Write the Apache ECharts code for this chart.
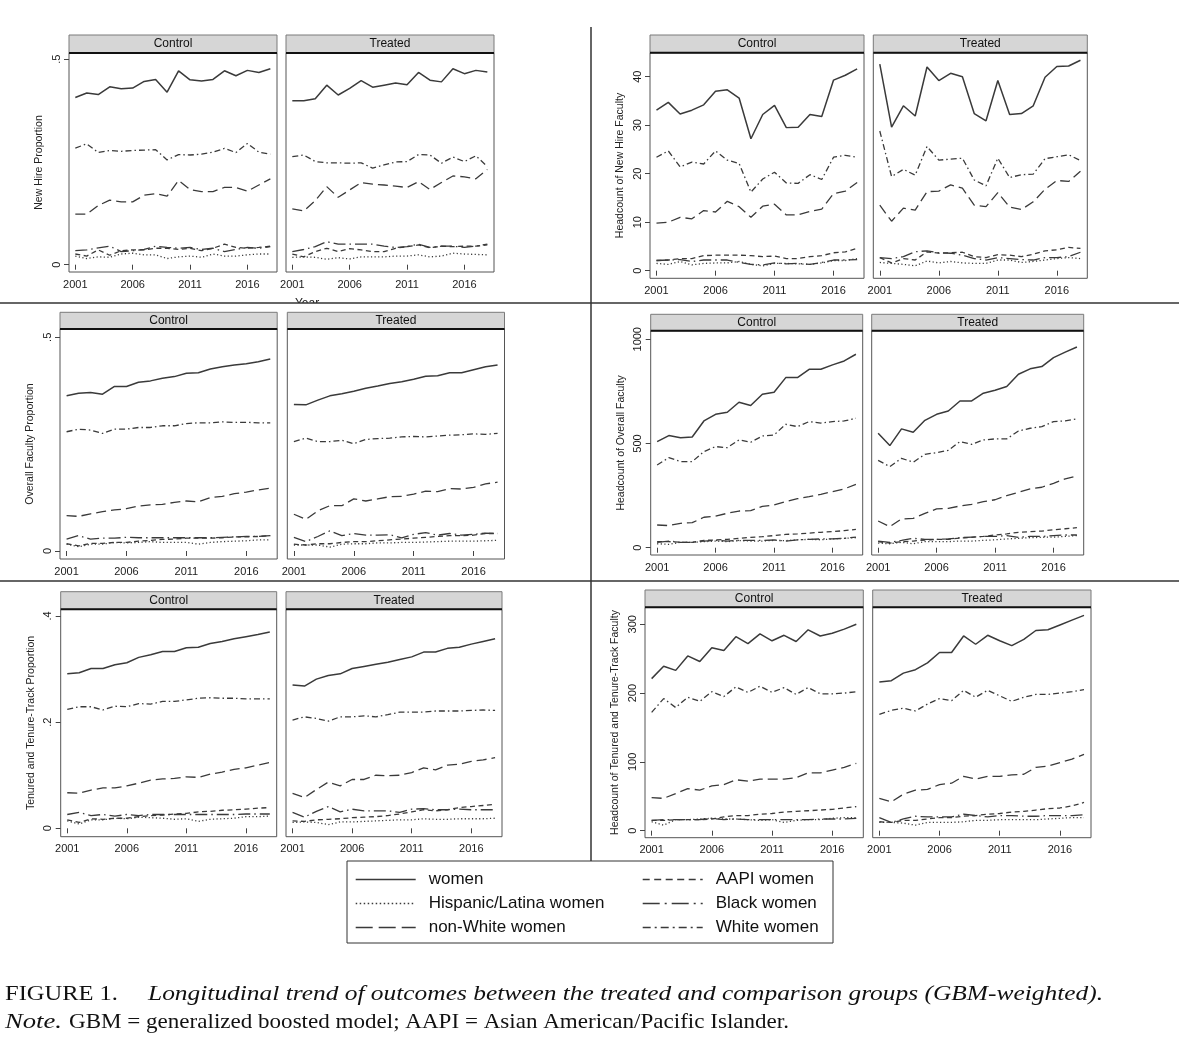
<!DOCTYPE html>
<html><head><meta charset="utf-8">
<script src="https://cdn.jsdelivr.net/npm/echarts@6/dist/echarts.min.js"></script>
<style>html,body{margin:0;padding:0;background:#fff}#c{width:1179px;height:1050px}</style>
</head><body><div id="c"></div>
<script>
// ---------- DATA ----------
const years = [2001,2002,2003,2004,2005,2006,2007,2008,2009,2010,2011,2012,2013,2014,2015,2016,2017,2018];
const xTickValues = [2001,2006,2011,2016];
const seriesNames = ['women','Hispanic/Latina women','non-White women','AAPI women','Black women','White women'];
const groupNames = ['Control','Treated'];
const panelTitles = ['New Hire Proportion','Headcount of New Hire Faculty','Overall Faculty Proportion','Headcount of Overall Faculty','Tenured and Tenure-Track Proportion','Headcount of Tenured and Tenure-Track Faculty'];
const yTickValues = [[0,0.5],[0,10,20,30,40],[0,0.5],[0,500,1000],[0,0.2,0.4],[0,100,200,300]];

// New hire proportion
const nhProp_ctrl_women    = [0.407,0.418,0.414,0.433,0.428,0.430,0.446,0.451,0.420,0.472,0.450,0.447,0.451,0.472,0.460,0.473,0.468,0.477];
const nhProp_ctrl_hisp     = [0.021,0.015,0.019,0.018,0.026,0.028,0.024,0.024,0.015,0.019,0.021,0.018,0.026,0.021,0.021,0.024,0.026,0.026];
const nhProp_ctrl_nonWhite = [0.123,0.123,0.144,0.157,0.153,0.153,0.169,0.173,0.167,0.205,0.183,0.178,0.178,0.188,0.188,0.179,0.194,0.209];
const nhProp_ctrl_aapi     = [0.026,0.021,0.036,0.023,0.034,0.036,0.036,0.040,0.040,0.037,0.040,0.034,0.040,0.050,0.042,0.040,0.042,0.045];
const nhProp_ctrl_black    = [0.034,0.036,0.041,0.045,0.032,0.034,0.037,0.045,0.042,0.040,0.042,0.037,0.040,0.032,0.037,0.042,0.040,0.044];
const nhProp_ctrl_white    = [0.284,0.294,0.273,0.278,0.276,0.278,0.279,0.280,0.255,0.268,0.267,0.269,0.274,0.283,0.273,0.295,0.274,0.269];
const nhProp_trt_women     = [0.399,0.399,0.404,0.437,0.413,0.429,0.448,0.432,0.437,0.442,0.438,0.468,0.449,0.445,0.477,0.465,0.473,0.469];
const nhProp_trt_hisp      = [0.018,0.019,0.018,0.013,0.017,0.014,0.019,0.019,0.019,0.021,0.021,0.024,0.019,0.021,0.028,0.026,0.025,0.024];
const nhProp_trt_nonWhite  = [0.136,0.131,0.156,0.190,0.164,0.182,0.200,0.196,0.194,0.191,0.188,0.202,0.183,0.200,0.216,0.214,0.209,0.232];
const nhProp_trt_aapi      = [0.026,0.019,0.032,0.040,0.032,0.039,0.036,0.032,0.032,0.040,0.044,0.048,0.041,0.045,0.044,0.045,0.045,0.048];
const nhProp_trt_black     = [0.032,0.037,0.044,0.056,0.050,0.050,0.050,0.050,0.045,0.042,0.044,0.050,0.042,0.045,0.045,0.042,0.045,0.050];
const nhProp_trt_white     = [0.263,0.267,0.251,0.248,0.248,0.247,0.248,0.235,0.243,0.250,0.251,0.268,0.267,0.247,0.262,0.251,0.265,0.239];

// Headcount of new hire faculty
const nhCount_ctrl_women    = [33.1,34.7,32.3,33.1,34.2,37.0,37.3,35.6,27.2,32.2,34.1,29.5,29.6,32.2,31.8,39.3,40.3,41.6];
const nhCount_ctrl_hisp     = [1.5,1.3,1.9,1.2,1.5,1.6,1.6,1.9,1.3,1.0,1.5,1.5,1.4,1.3,1.6,2.1,2.1,2.5];
const nhCount_ctrl_nonWhite = [9.8,10.0,11.0,10.7,12.4,12.1,14.3,13.2,11.0,13.3,13.7,11.5,11.5,12.2,12.7,15.9,16.4,18.2];
const nhCount_ctrl_aapi     = [2.1,2.2,2.5,2.5,3.1,3.2,3.2,3.2,3.1,2.9,3.0,2.5,2.5,2.9,3.1,3.7,3.9,4.6];
const nhCount_ctrl_black    = [2.1,2.2,2.3,1.9,2.2,2.2,2.2,1.7,1.3,1.2,1.6,1.4,1.5,1.3,1.7,2.2,2.2,2.3];
const nhCount_ctrl_white    = [23.4,24.7,21.4,22.4,22.0,24.7,22.8,22.1,16.2,18.9,20.3,18.1,18.0,19.8,18.8,23.4,23.8,23.4];
const nhCount_trt_women     = [42.6,29.6,34.0,31.9,42.0,39.2,40.7,40.0,32.4,30.9,39.2,32.2,32.4,34.0,39.9,42.1,42.2,43.4];
const nhCount_trt_hisp      = [1.7,1.5,1.3,1.0,2.0,1.6,1.9,1.6,1.5,1.5,2.2,2.2,1.7,1.9,2.2,2.5,2.7,2.5];
const nhCount_trt_nonWhite  = [13.5,10.2,12.9,12.5,16.3,16.4,17.7,17.0,13.5,13.2,16.1,13.1,12.6,14.2,16.8,18.6,18.4,20.5];
const nhCount_trt_aapi      = [2.7,1.6,2.5,2.2,3.9,3.6,3.7,3.8,2.9,2.7,3.3,3.2,2.9,3.4,4.1,4.3,4.8,4.6];
const nhCount_trt_black     = [2.7,2.5,2.9,3.9,4.1,3.7,3.6,3.2,2.5,2.2,2.7,2.5,2.3,2.2,2.7,2.7,2.9,3.8];
const nhCount_trt_white     = [28.8,19.4,20.9,19.7,25.6,22.8,23.0,23.2,18.7,17.5,23.2,19.2,19.8,19.9,23.1,23.5,23.9,22.7];

// Overall faculty proportion
const allProp_ctrl_women    = [0.363,0.369,0.371,0.367,0.385,0.385,0.395,0.398,0.404,0.408,0.416,0.417,0.426,0.431,0.435,0.438,0.443,0.449];
const allProp_ctrl_hisp     = [0.016,0.010,0.016,0.016,0.020,0.019,0.020,0.022,0.020,0.020,0.020,0.016,0.020,0.022,0.023,0.024,0.026,0.026];
const allProp_ctrl_nonWhite = [0.083,0.081,0.087,0.092,0.096,0.099,0.105,0.108,0.109,0.114,0.117,0.115,0.125,0.128,0.134,0.138,0.143,0.147];
const allProp_ctrl_aapi     = [0.017,0.012,0.018,0.018,0.020,0.020,0.023,0.025,0.027,0.028,0.030,0.030,0.030,0.031,0.033,0.033,0.034,0.036];
const allProp_ctrl_black    = [0.028,0.036,0.028,0.030,0.030,0.032,0.031,0.031,0.031,0.031,0.031,0.031,0.031,0.032,0.033,0.034,0.034,0.036];
const allProp_ctrl_white    = [0.279,0.285,0.283,0.275,0.285,0.285,0.289,0.289,0.293,0.293,0.298,0.300,0.300,0.302,0.301,0.301,0.300,0.300];
const allProp_trt_women     = [0.343,0.342,0.353,0.363,0.368,0.374,0.381,0.386,0.392,0.396,0.402,0.409,0.410,0.417,0.417,0.424,0.431,0.435];
const allProp_trt_hisp      = [0.014,0.014,0.014,0.009,0.016,0.017,0.017,0.019,0.019,0.020,0.020,0.021,0.022,0.023,0.023,0.023,0.024,0.025];
const allProp_trt_nonWhite  = [0.086,0.074,0.094,0.106,0.106,0.122,0.117,0.122,0.127,0.128,0.133,0.140,0.139,0.146,0.145,0.149,0.157,0.161];
const allProp_trt_aapi      = [0.016,0.014,0.017,0.017,0.020,0.022,0.022,0.024,0.026,0.028,0.030,0.032,0.034,0.036,0.036,0.037,0.041,0.041];
const allProp_trt_black     = [0.032,0.022,0.034,0.047,0.036,0.041,0.037,0.037,0.038,0.031,0.039,0.043,0.037,0.041,0.037,0.039,0.042,0.041];
const allProp_trt_white     = [0.256,0.264,0.256,0.256,0.259,0.251,0.261,0.263,0.264,0.267,0.268,0.267,0.269,0.271,0.272,0.274,0.273,0.275];

// Headcount of overall faculty
const allCount_ctrl_women    = [509,538,528,531,608,640,650,698,682,736,746,816,816,856,856,877,896,928];
const allCount_ctrl_hisp     = [19,16,26,26,29,32,29,34,32,32,35,34,38,40,38,42,45,48];
const allCount_ctrl_nonWhite = [109,106,117,120,146,152,165,176,178,198,205,221,235,245,256,269,282,304];
const allCount_ctrl_aapi     = [29,29,26,26,35,37,40,45,50,53,58,64,66,70,74,77,82,88];
const allCount_ctrl_black    = [26,32,26,26,32,35,32,35,35,35,37,32,38,40,42,42,45,51];
const allCount_ctrl_white    = [397,432,413,413,461,485,480,517,506,536,541,592,581,605,598,605,608,621];
const allCount_trt_women     = [549,490,570,554,611,640,656,704,704,741,755,773,832,858,869,912,938,963];
const allCount_trt_hisp      = [22,19,26,19,29,29,29,32,32,35,38,42,45,48,50,51,54,58];
const allCount_trt_nonWhite  = [128,101,138,141,165,186,189,200,208,221,230,250,266,282,290,309,330,344];
const allCount_trt_aapi      = [29,22,29,32,37,40,40,46,50,54,61,66,74,77,80,86,91,96];
const allCount_trt_black     = [32,26,35,45,40,40,42,48,51,54,54,58,50,54,54,58,61,61];
const allCount_trt_white     = [419,389,429,410,448,456,467,509,496,517,522,522,560,573,581,605,608,618];

// Tenured and tenure-track proportion
const ttProp_ctrl_women    = [0.291,0.293,0.301,0.301,0.308,0.312,0.322,0.327,0.333,0.333,0.340,0.341,0.348,0.352,0.357,0.361,0.365,0.370];
const ttProp_ctrl_hisp     = [0.014,0.008,0.016,0.016,0.019,0.018,0.021,0.020,0.019,0.017,0.018,0.013,0.017,0.018,0.019,0.022,0.022,0.023];
const ttProp_ctrl_nonWhite = [0.067,0.066,0.072,0.076,0.076,0.080,0.085,0.091,0.093,0.094,0.097,0.096,0.102,0.106,0.111,0.114,0.119,0.124];
const ttProp_ctrl_aapi     = [0.016,0.011,0.018,0.017,0.019,0.019,0.022,0.024,0.025,0.027,0.028,0.031,0.032,0.034,0.035,0.036,0.038,0.039];
const ttProp_ctrl_black    = [0.026,0.030,0.024,0.026,0.023,0.026,0.024,0.026,0.026,0.026,0.026,0.026,0.026,0.026,0.026,0.027,0.027,0.027];
const ttProp_ctrl_white    = [0.224,0.229,0.229,0.223,0.230,0.229,0.235,0.234,0.239,0.239,0.242,0.245,0.246,0.245,0.245,0.244,0.244,0.244];
const ttProp_trt_women     = [0.270,0.268,0.281,0.288,0.291,0.301,0.305,0.309,0.313,0.318,0.323,0.332,0.332,0.339,0.341,0.347,0.352,0.357];
const ttProp_trt_hisp      = [0.011,0.012,0.011,0.007,0.012,0.012,0.013,0.014,0.015,0.016,0.016,0.018,0.017,0.017,0.018,0.018,0.018,0.019];
const ttProp_trt_nonWhite  = [0.066,0.058,0.073,0.087,0.080,0.092,0.092,0.100,0.099,0.100,0.105,0.114,0.110,0.119,0.121,0.126,0.129,0.133];
const ttProp_trt_aapi      = [0.014,0.013,0.016,0.017,0.018,0.020,0.021,0.022,0.024,0.027,0.031,0.035,0.033,0.035,0.039,0.041,0.043,0.045];
const ttProp_trt_black     = [0.030,0.021,0.032,0.041,0.031,0.036,0.033,0.033,0.033,0.030,0.036,0.037,0.035,0.035,0.036,0.035,0.035,0.035];
const ttProp_trt_white     = [0.204,0.210,0.207,0.202,0.210,0.210,0.212,0.210,0.214,0.219,0.219,0.219,0.221,0.221,0.221,0.222,0.223,0.222];

// Headcount of tenured and tenure-track faculty
const ttCount_ctrl_women    = [221,239,233,254,246,266,262,282,272,286,276,284,275,292,283,287,293,300];
const ttCount_ctrl_hisp     = [13,8,16,16,17,18,17,17,16,15,16,12,15,16,16,18,19,19];
const ttCount_ctrl_nonWhite = [48,47,54,61,59,65,67,74,72,75,75,75,77,84,84,88,92,98];
const ttCount_ctrl_aapi     = [15,15,16,16,16,17,20,22,22,24,25,27,28,29,30,31,33,35];
const ttCount_ctrl_black    = [15,16,16,16,16,18,16,17,16,16,16,16,16,16,17,17,17,18];
const ttCount_ctrl_white    = [172,192,179,194,188,202,195,209,201,210,201,208,198,208,199,199,200,202];
const ttCount_trt_women     = [216,218,229,234,244,259,259,283,271,284,276,269,278,291,292,299,306,313];
const ttCount_trt_hisp      = [12,12,11,8,12,12,12,13,15,15,16,16,16,16,17,18,19,19];
const ttCount_trt_nonWhite  = [47,42,53,59,60,67,69,79,75,79,79,81,82,92,94,99,104,111];
const ttCount_trt_aapi      = [13,12,15,15,17,19,19,21,22,24,25,27,28,30,32,33,36,41];
const ttCount_trt_black     = [19,12,17,21,20,20,20,24,22,20,22,22,21,21,22,22,22,23];
const ttCount_trt_white     = [169,175,178,174,184,192,189,204,194,204,196,188,194,198,198,200,202,205];

// ---------- ASSEMBLY ----------
const panelData = [
  [[nhProp_ctrl_women,nhProp_ctrl_hisp,nhProp_ctrl_nonWhite,nhProp_ctrl_aapi,nhProp_ctrl_black,nhProp_ctrl_white],
   [nhProp_trt_women,nhProp_trt_hisp,nhProp_trt_nonWhite,nhProp_trt_aapi,nhProp_trt_black,nhProp_trt_white]],
  [[nhCount_ctrl_women,nhCount_ctrl_hisp,nhCount_ctrl_nonWhite,nhCount_ctrl_aapi,nhCount_ctrl_black,nhCount_ctrl_white],
   [nhCount_trt_women,nhCount_trt_hisp,nhCount_trt_nonWhite,nhCount_trt_aapi,nhCount_trt_black,nhCount_trt_white]],
  [[allProp_ctrl_women,allProp_ctrl_hisp,allProp_ctrl_nonWhite,allProp_ctrl_aapi,allProp_ctrl_black,allProp_ctrl_white],
   [allProp_trt_women,allProp_trt_hisp,allProp_trt_nonWhite,allProp_trt_aapi,allProp_trt_black,allProp_trt_white]],
  [[allCount_ctrl_women,allCount_ctrl_hisp,allCount_ctrl_nonWhite,allCount_ctrl_aapi,allCount_ctrl_black,allCount_ctrl_white],
   [allCount_trt_women,allCount_trt_hisp,allCount_trt_nonWhite,allCount_trt_aapi,allCount_trt_black,allCount_trt_white]],
  [[ttProp_ctrl_women,ttProp_ctrl_hisp,ttProp_ctrl_nonWhite,ttProp_ctrl_aapi,ttProp_ctrl_black,ttProp_ctrl_white],
   [ttProp_trt_women,ttProp_trt_hisp,ttProp_trt_nonWhite,ttProp_trt_aapi,ttProp_trt_black,ttProp_trt_white]],
  [[ttCount_ctrl_women,ttCount_ctrl_hisp,ttCount_ctrl_nonWhite,ttCount_ctrl_aapi,ttCount_ctrl_black,ttCount_ctrl_white],
   [ttCount_trt_women,ttCount_trt_hisp,ttCount_trt_nonWhite,ttCount_trt_aapi,ttCount_trt_black,ttCount_trt_white]]
];

// layout (pixels) and axis ranges
const X_MIN = 2000.45, X_MAX = 2018.58;
const layout = [
  {cx:69,    tx:286,   w:208,   top:53,    bottom:272,   strip:35,    yMin:-0.0178, yMax:0.5153},
  {cx:650,   tx:873.3, w:214,   top:52.7,  bottom:278.3, strip:35,    yMin:-1.57,   yMax:44.95},
  {cx:60,    tx:287.3, w:217.2, top:329,   bottom:559,   strip:312.3, yMin:-0.0187, yMax:0.5194},
  {cx:650.7, tx:871.7, w:212,   top:330.7, bottom:555,   strip:314.3, yMin:-35,     yMax:1041},
  {cx:60.7,  tx:286,   w:216,   top:609.3, bottom:836.7, strip:591.7, yMin:-0.0158, yMax:0.4126},
  {cx:645,   tx:872.7, w:218.3, top:607.3, bottom:837.7, strip:590,   yMin:-10.2,   yMax:324.7}
];
const lineColor = '#3a3a3a';
const dashTypes = ['solid', [1.2,2.4], [10,5], [5,3.5], [12,4,1.5,4], [6,3,1.5,3]];
const legendDashTypes = ['solid', [1.5,2.5], [17,6], [7,4.5], [17,5,2,5], [8,4,2,4]];
const SANS = '"Liberation Sans", Arial, Helvetica, sans-serif';
const SERIF = '"Liberation Serif", "Times New Roman", serif';

const grids = [], xAxes = [], yAxes = [], series = [], graphics = [];
const fmtY = v => v === 0 ? '0' : String(+v.toFixed(3)).replace(/^0\./, '.');

layout.forEach((L, p) => {
  [L.cx, L.tx].forEach((left, g) => {
    const idx = p * 2 + g;
    grids.push({left: left, top: L.top, width: L.w, height: L.bottom - L.top,
      show: true, borderColor: '#555', borderWidth: 1, backgroundColor: '#fff'});
    xAxes.push({type: 'value', gridIndex: idx, min: X_MIN, max: X_MAX,
      axisLine: {show: false}, splitLine: {show: false},
      axisTick: {show: true, length: 5, customValues: xTickValues, lineStyle: {color: '#444'}},
      axisLabel: {show: true, customValues: xTickValues, margin: 7, fontSize: 11, fontFamily: SANS, color: '#1a1a1a',
        formatter: v => String(Math.round(v))}});
    yAxes.push({type: 'value', gridIndex: idx, min: L.yMin, max: L.yMax,
      axisLine: {show: false}, splitLine: {show: false},
      axisTick: {show: g === 0, length: 5, customValues: yTickValues[p], lineStyle: {color: '#444'}},
      axisLabel: {show: g === 0, customValues: yTickValues[p], rotate: 90, margin: 7, fontSize: 11, fontFamily: SANS, color: '#1a1a1a', formatter: fmtY},
      name: g === 0 ? panelTitles[p] : '', nameLocation: 'middle', nameRotate: 90, nameGap: 24,
      nameTextStyle: {fontSize: 10.5, fontFamily: SANS, color: '#222'}});
    panelData[p][g].forEach((vals, s) => {
      series.push({type: 'line', name: seriesNames[s], xAxisIndex: idx, yAxisIndex: idx,
        data: years.map((y, i) => [y, vals[i]]), symbol: 'none', showSymbol: false, silent: true,
        lineStyle: {color: lineColor, width: s === 0 ? 1.5 : 1.3, type: dashTypes[s], cap: 'butt'},
        itemStyle: {color: lineColor}, z: 3});
    });
    // strip
    graphics.push({type: 'rect', shape: {x: left, y: L.strip, width: L.w, height: L.top - L.strip},
      style: {fill: '#d6d6d6', stroke: '#7a7a7a', lineWidth: 1}, z: 10});
    graphics.push({type: 'line', shape: {x1: left, y1: L.top, x2: left + L.w, y2: L.top},
      style: {stroke: '#111', lineWidth: 2}, z: 11});
    graphics.push({type: 'text', x: left + L.w / 2, y: (L.strip + L.top) / 2,
      style: {text: groupNames[g], fill: '#111', font: '12px ' + SANS, textAlign: 'center', textVerticalAlign: 'middle'}, z: 11});
  });
});

// panel dividers
graphics.push({type: 'line', shape: {x1: 591, y1: 27, x2: 591, y2: 861}, style: {stroke: '#333', lineWidth: 1.5}, z: 20});
graphics.push({type: 'line', shape: {x1: 0, y1: 303, x2: 1179, y2: 303}, style: {stroke: '#333', lineWidth: 1.5}, z: 20});
graphics.push({type: 'line', shape: {x1: 0, y1: 581, x2: 1179, y2: 581}, style: {stroke: '#333', lineWidth: 1.5}, z: 20});
// clipped "Year" title
graphics.push({type: 'text', x: 307, y: 298, style: {text: 'Year', fill: '#222', font: '12px ' + SANS, textAlign: 'center', textVerticalAlign: 'top'}, z: 12});
graphics.push({type: 'rect', shape: {x: 280, y: 303, width: 60, height: 8}, style: {fill: '#fff'}, z: 13});
// legend box
graphics.push({type: 'rect', shape: {x: 347, y: 861, width: 486, height: 82}, style: {fill: 'none', stroke: '#333', lineWidth: 1}, z: 20});

// caption with width fitting
const ctx = document.createElement('canvas').getContext('2d');
function fitText(text, font, x, y, targetW) {
  ctx.font = font;
  const w = ctx.measureText(text).width;
  graphics.push({type: 'text', x: x, y: y, scaleX: targetW / w, originX: 0, originY: 0,
    style: {text: text, font: font, fill: '#111', textAlign: 'left', textVerticalAlign: 'middle'}, z: 20});
}
fitText('FIGURE 1.', '22px ' + SERIF, 5, 994, 113);
fitText('Longitudinal trend of outcomes between the treated and comparison groups (GBM-weighted).', 'italic 22px ' + SERIF, 148, 994, 955);
fitText('Note.', 'italic 22px ' + SERIF, 5, 1022, 57);
fitText('GBM = generalized boosted model; AAPI = Asian American/Pacific Islander.', '22px ' + SERIF, 69, 1022, 720);

const legendTextStyle = {fontSize: 17, fontFamily: SANS, color: '#111', padding: [0, 0, 0, 8]};
const legendBase = {orient: 'vertical', top: 866, itemWidth: 60, itemHeight: 14, itemGap: 7, selectedMode: false,
  itemStyle: {color: 'rgba(0,0,0,0)', borderWidth: 0, opacity: 0}};
const legendItems = seriesNames.map((n, s) => ({name: n,
  lineStyle: {type: legendDashTypes[s], width: 1.4, color: lineColor, cap: 'butt'}}));
const chart = echarts.init(document.getElementById('c'), null, {renderer: 'canvas'});
chart.setOption({
  backgroundColor: '#fff',
  animation: false,
  grid: grids, xAxis: xAxes, yAxis: yAxes, series: series,
  legend: [
    Object.assign({}, legendBase, {left: 350, data: legendItems.slice(0, 3), textStyle: legendTextStyle}),
    Object.assign({}, legendBase, {left: 637, data: legendItems.slice(3, 6), textStyle: legendTextStyle})
  ],
  graphic: graphics
});
</script></body></html>
